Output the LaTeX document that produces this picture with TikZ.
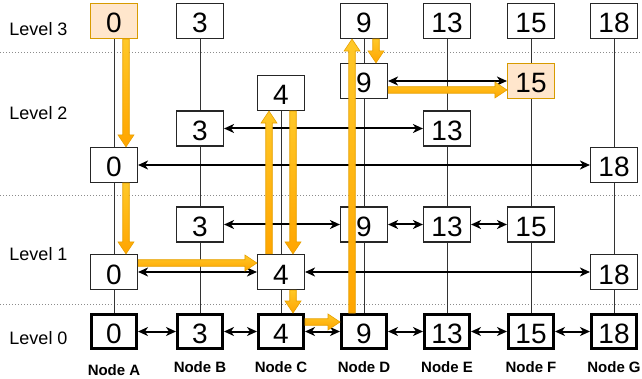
\documentclass[tikz,border=0pt]{standalone}
\usepackage{fontspec}
\setmainfont{Liberation Sans}
\usetikzlibrary{calc,arrows.meta}

\definecolor{hlfill}{RGB}{255,230,204}
\definecolor{hldraw}{RGB}{215,155,0}
\definecolor{flexlight}{RGB}{255,200,40}
\definecolor{flexdark}{RGB}{255,165,0}
\definecolor{flexline}{RGB}{230,160,0}

\tikzset{
  key/.style={draw=black!85, fill=white, line width=1.1pt, minimum width=47pt,
    minimum height=35pt, inner sep=0pt, font=\fontsize{28}{28}\selectfont,
    text height=24pt, text depth=0pt},
  base/.style={key, draw=black, line width=3pt, minimum width=45pt, minimum height=34pt},
  hot/.style={key, fill=hlfill, draw=hldraw},
  levellabel/.style={font=\fontsize{18}{18}\selectfont, inner sep=0pt},
  nodelabel/.style={font=\bfseries\fontsize{15}{15}\selectfont, inner sep=0pt},
  link/.style={draw=black!80, line width=1pt},
  ptr/.style={line width=2pt, >={Stealth[length=10pt,width=9pt,inset=3pt]}, <->},
  levelsep/.style={draw=black!45, line width=0.8pt, dash pattern=on 1pt off 2pt},
  flex/.style={draw=flexline, line width=0.6pt, top color=flexlight,
    bottom color=flexdark, line join=miter},
}

% wide search-path arrow from coordinate #1 to coordinate #2
\newcommand\flexarrow[2]{%
  \coordinate (flexbase) at ($(#2)!12pt!(#1)$);
  \path[flex] ($(#1)!3.25pt!90:(#2)$) -- ($(flexbase)!3.25pt!90:(#2)$)
    -- ($(flexbase)!8pt!90:(#2)$) -- (#2) -- ($(flexbase)!8pt!-90:(#2)$)
    -- ($(flexbase)!3.25pt!-90:(#2)$) -- ($(#1)!3.25pt!-90:(#2)$) -- cycle;}

\begin{document}
\begin{tikzpicture}[x=1pt,y=-1pt]
\useasboundingbox (0,0) rectangle (642,379);

% level separators
\draw[levelsep] (0,52) -- (642,52);
\draw[levelsep] (0,195) -- (642,195);
\draw[levelsep] (0,304) -- (642,304);

% level 3
\node[hot] (a3) at (114,21) {0};
\node[key] (b3) at (200,21) {3};
\node[key] (d3) at (364,21) {9};
\node[key] (e3) at (447,21) {13};
\node[key] (f3) at (531,21) {15};
\node[key] (g3) at (614,21) {18};

% level 2
\node[key] (d2) at (364,81) {9};
\node[hot] (f2) at (531,81) {15};
\node[key] (c2) at (281,93) {4};
\node[key] (b2) at (200,128.5) {3};
\node[key] (e2) at (447,128.5) {13};
\node[key] (a2) at (114,165) {0};
\node[key] (g2) at (614,165) {18};

% level 1
\node[key] (b1) at (200,224.5) {3};
\node[key] (d1) at (364,224.5) {9};
\node[key] (e1) at (447,224.5) {13};
\node[key] (f1) at (531,224.5) {15};
\node[key] (a1) at (114,272) {0};
\node[key] (c1) at (281,272) {4};
\node[key] (g1) at (614,272) {18};

% level 0
\node[base] (a0) at (114,331.5) {0};
\node[base] (b0) at (200,331.5) {3};
\node[base] (c0) at (281,331.5) {4};
\node[base] (d0) at (364,331.5) {9};
\node[base] (e0) at (447,331.5) {13};
\node[base] (f0) at (531,331.5) {15};
\node[base] (g0) at (614,331.5) {18};

% column links
\draw[link] (a3) -- (a2) (a2) -- (a1) (a1) -- (a0);
\draw[link] (b3) -- (b2) (b2) -- (b1) (b1) -- (b0);
\draw[link] (c2) -- (c1) (c1) -- (c0);
\draw[link] (d3) -- (d2) (d2) -- (d1) (d1) -- (d0);
\draw[link] (e3) -- (e2) (e2) -- (e1) (e1) -- (e0);
\draw[link] (f3) -- (f2) (f2) -- (f1) (f1) -- (f0);
\draw[link] (g3) -- (g2) (g2) -- (g1) (g1) -- (g0);

% level pointers
\draw[ptr] (d2) -- (f2);
\draw[ptr] (b2) -- (e2);
\draw[ptr] (a2) -- (g2);
\draw[ptr] (b1) -- (d1);
\draw[ptr] (d1) -- (e1);
\draw[ptr] (e1) -- (f1);
\draw[ptr] (a1) -- (c1);
\draw[ptr] (c1) -- (g1);
\draw[ptr] (a0) -- (b0);
\draw[ptr] (b0) -- (c0);
\draw[ptr] (c0) -- (d0);
\draw[ptr] (d0) -- (e0);
\draw[ptr] (e0) -- (f0);
\draw[ptr] (f0) -- (g0);

% level names
\node[levellabel] (lv3) at (38.5,29.5) {Level 3};
\node[levellabel] (lv2) at (38.5,113) {Level 2};
\node[levellabel] (lv1) at (38.5,254.5) {Level 1};
\node[levellabel] (lv0) at (38.5,338) {Level 0};

% node names
\node[nodelabel] (na) at (114,370) {Node A};
\node[nodelabel] (nb) at (200,367) {Node B};
\node[nodelabel] (nc) at (281,367) {Node C};
\node[nodelabel] (nd) at (364,367) {Node D};
\node[nodelabel] (ne) at (447,367) {Node E};
\node[nodelabel] (nf) at (531,367) {Node F};
\node[nodelabel] (ng) at (614,367) {Node G};

% search path
\coordinate (s1a) at ([xshift=12pt]a3.south);
\coordinate (s1b) at ([xshift=12pt]a2.north);
\coordinate (s2a) at ([xshift=12pt]a2.south);
\coordinate (s2b) at ([xshift=12pt]a1.north);
\coordinate (s3a) at ([yshift=9pt]a1.east);
\coordinate (s3b) at ([yshift=9pt]c1.west);
\coordinate (s4a) at ([xshift=-12pt]c1.north);
\coordinate (s4b) at ([xshift=-12pt]c2.south);
\coordinate (s5a) at ([xshift=12pt]c2.south);
\coordinate (s5b) at ([xshift=12pt]c1.north);
\coordinate (s6a) at ([xshift=12pt]c1.south);
\coordinate (s6b) at ([xshift=12pt]c0.north);
\coordinate (s7a) at ([yshift=9.5pt]c0.east);
\coordinate (s7b) at ([yshift=9.5pt]d0.west);
\coordinate (s8a) at ([xshift=-12pt]d0.north);
\coordinate (s8b) at ([xshift=-12pt]d3.south);
\coordinate (s9a) at ([xshift=12pt]d3.south);
\coordinate (s9b) at ([xshift=12pt]d2.north);
\coordinate (s10a) at ([yshift=-9pt]d2.east);
\coordinate (s10b) at ([yshift=-9pt]f2.west);

\flexarrow{s1a}{s1b}
\flexarrow{s2a}{s2b}
\flexarrow{s3a}{s3b}
\flexarrow{s4a}{s4b}
\flexarrow{s5a}{s5b}
\flexarrow{s6a}{s6b}
\flexarrow{s7a}{s7b}
\flexarrow{s8a}{s8b}
\flexarrow{s9a}{s9b}
\flexarrow{s10a}{s10b}
\end{tikzpicture}
\end{document}
